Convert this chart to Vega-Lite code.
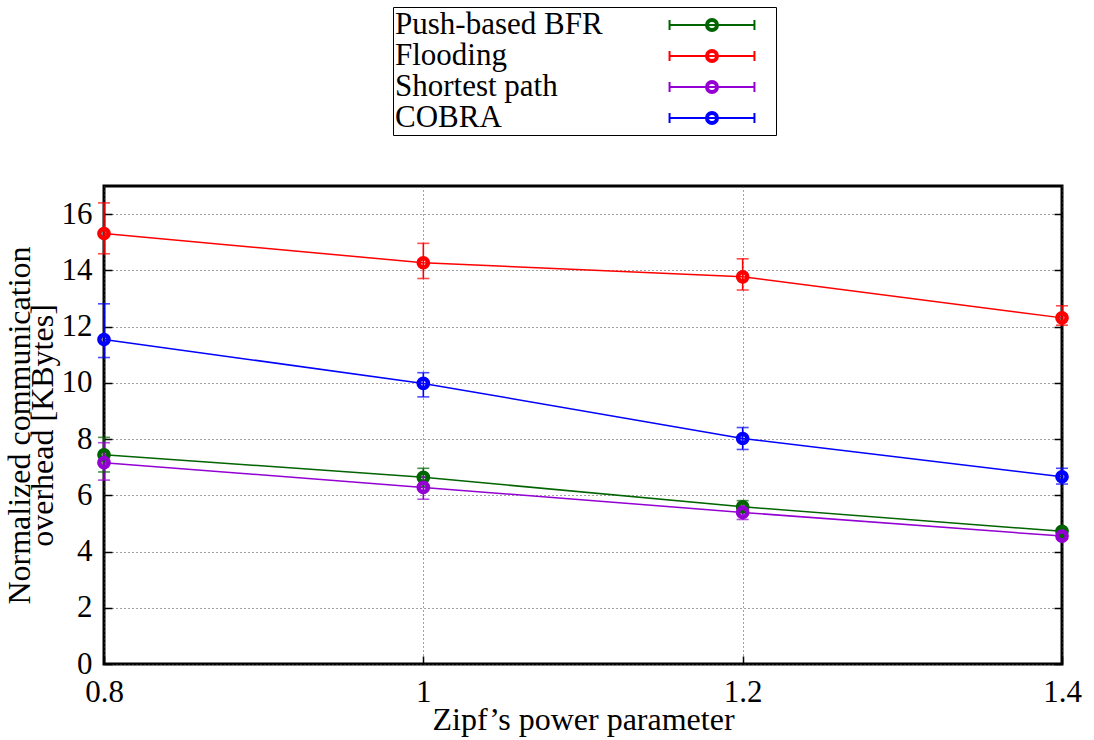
{
  "$schema": "https://vega.github.io/schema/vega-lite/v6.json",
  "width": 958,
  "height": 478,
  "autosize": {"type": "none"},
  "padding": {"left": 104, "top": 186, "right": 32, "bottom": 76},
  "background": "white",
  "data": {
    "values": [
      {"series": "Push-based BFR", "x": 0.8, "y": 7.44, "lo": 6.83, "hi": 8.06},
      {"series": "Push-based BFR", "x": 1.0, "y": 6.64, "lo": 6.32, "hi": 6.96},
      {"series": "Push-based BFR", "x": 1.2, "y": 5.59, "lo": 5.40, "hi": 5.81},
      {"series": "Push-based BFR", "x": 1.4, "y": 4.72, "lo": 4.62, "hi": 4.82},
      {"series": "Flooding", "x": 0.8, "y": 15.31, "lo": 14.59, "hi": 16.40},
      {"series": "Flooding", "x": 1.0, "y": 14.27, "lo": 13.71, "hi": 14.96},
      {"series": "Flooding", "x": 1.2, "y": 13.77, "lo": 13.30, "hi": 14.41},
      {"series": "Flooding", "x": 1.4, "y": 12.31, "lo": 12.05, "hi": 12.74},
      {"series": "Shortest path", "x": 0.8, "y": 7.16, "lo": 6.54, "hi": 7.87},
      {"series": "Shortest path", "x": 1.0, "y": 6.28, "lo": 5.86, "hi": 6.66},
      {"series": "Shortest path", "x": 1.2, "y": 5.39, "lo": 5.14, "hi": 5.62},
      {"series": "Shortest path", "x": 1.4, "y": 4.55, "lo": 4.45, "hi": 4.65},
      {"series": "COBRA", "x": 0.8, "y": 11.54, "lo": 10.90, "hi": 12.81},
      {"series": "COBRA", "x": 1.0, "y": 9.98, "lo": 9.50, "hi": 10.36},
      {"series": "COBRA", "x": 1.2, "y": 8.02, "lo": 7.63, "hi": 8.41},
      {"series": "COBRA", "x": 1.4, "y": 6.66, "lo": 6.40, "hi": 6.96}
    ]
  },
  "encoding": {
    "x": {
      "field": "x", "type": "quantitative",
      "scale": {"domain": [0.8, 1.4], "nice": false, "zero": false},
      "axis": {
        "title": "Zipf\u2019s power parameter",
        "values": [0.8, 1, 1.2, 1.4],
        "format": "~g",
        "grid": true,
        "domain": false,
        "tickSize": -8,
        "labelFlush": false,
        "labelPadding": 21,
        "titlePadding": -3,
        "labelFont": "Liberation Serif",
        "titleFont": "Liberation Serif"
      }
    },
    "color": {
      "field": "series", "type": "nominal",
      "scale": {
        "domain": ["Push-based BFR", "Flooding", "Shortest path", "COBRA"],
        "range": ["#006400", "#ff0000", "#9400d3", "#0000ff"]
      },
      "legend": {
        "title": null,
        "orient": "none",
        "legendX": 289,
        "legendY": -179,
        "strokeColor": "black",
        "fillColor": "white",
        "padding": 2,
        "labelFont": "Liberation Serif",
        "labelFontSize": 31,
        "labelColor": "black",
        "labelLimit": 400,
        "labelOffset": -333,
        "symbolOffset": 301,
        "symbolSize": 900,
        "symbolStrokeWidth": 2,
        "symbolOpacity": 1,
        "symbolFillColor": "transparent",
        "symbolType": "M-2.83,0H2.83M-2.83,-0.33V0.33M2.83,-0.33V0.33M0.4,0A0.4,0.4 0 1,1 -0.4,0A0.4,0.4 0 1,1 0.4,0M0.27,0A0.27,0.27 0 1,1 -0.27,0A0.27,0.27 0 1,1 0.27,0M3.85,0",
        "rowPadding": 0,
        "encode": {
          "symbols": {"update": {"fill": {"value": "transparent"}, "fillOpacity": {"value": 0}, "opacity": {"value": 1}}}
        }
      }
    }
  },
  "layer": [
    {
      "mark": {"type": "line", "strokeWidth": 1.5, "clip": false},
      "encoding": {
        "y": {
          "field": "y", "type": "quantitative",
          "scale": {"domain": [0, 17], "nice": false},
          "axis": {
            "orient": "left",
            "title": ["Normalized communication", "overhead [KBytes]"],
            "titleLineHeight": 23,
            "values": [0, 2, 4, 6, 8, 10, 12, 14, 16],
            "grid": true,
            "domain": false,
            "tickSize": -8,
            "labelPadding": 20,
            "titlePadding": 2,
            "labelFont": "Liberation Serif",
            "titleFont": "Liberation Serif"
          }
        }
      }
    },
    {
      "mark": {"type": "rule", "strokeWidth": 1.6},
      "encoding": {
        "y": {"field": "lo", "type": "quantitative", "axis": null},
        "y2": {"field": "hi"}
      }
    },
    {
      "mark": {"type": "tick", "orient": "horizontal", "size": 12, "thickness": 1.6},
      "encoding": {"y": {"field": "lo", "type": "quantitative", "axis": null}}
    },
    {
      "mark": {"type": "tick", "orient": "horizontal", "size": 12, "thickness": 1.6},
      "encoding": {"y": {"field": "hi", "type": "quantitative", "axis": null}}
    },
    {
      "mark": {"type": "point", "filled": false, "size": 85, "strokeWidth": 4.5, "opacity": 1, "clip": false},
      "encoding": {"y": {"field": "y", "type": "quantitative", "axis": null}}
    },
    {
      "mark": {"type": "point", "opacity": 0},
      "encoding": {
        "y": {
          "field": "y", "type": "quantitative",
          "axis": {
            "orient": "right",
            "title": null,
            "labels": false,
            "grid": false,
            "domain": false,
            "values": [0, 2, 4, 6, 8, 10, 12, 14, 16],
            "tickSize": -8
          }
        }
      }
    }
  ],
  "resolve": {"axis": {"y": "independent"}},
  "config": {
    "view": {"stroke": "black", "strokeWidth": 3},
    "axis": {
      "labelFont": "Liberation Serif",
      "labelFontSize": 31,
      "labelColor": "black",
      "titleFont": "Liberation Serif",
      "titleFontSize": 32,
      "titleFontWeight": "normal",
      "titleColor": "black",
      "gridColor": "#444444",
      "gridDash": [1, 3],
      "gridWidth": 1,
      "gridOpacity": 1,
      "tickColor": "black",
      "tickWidth": 1.5
    }
  }
}
